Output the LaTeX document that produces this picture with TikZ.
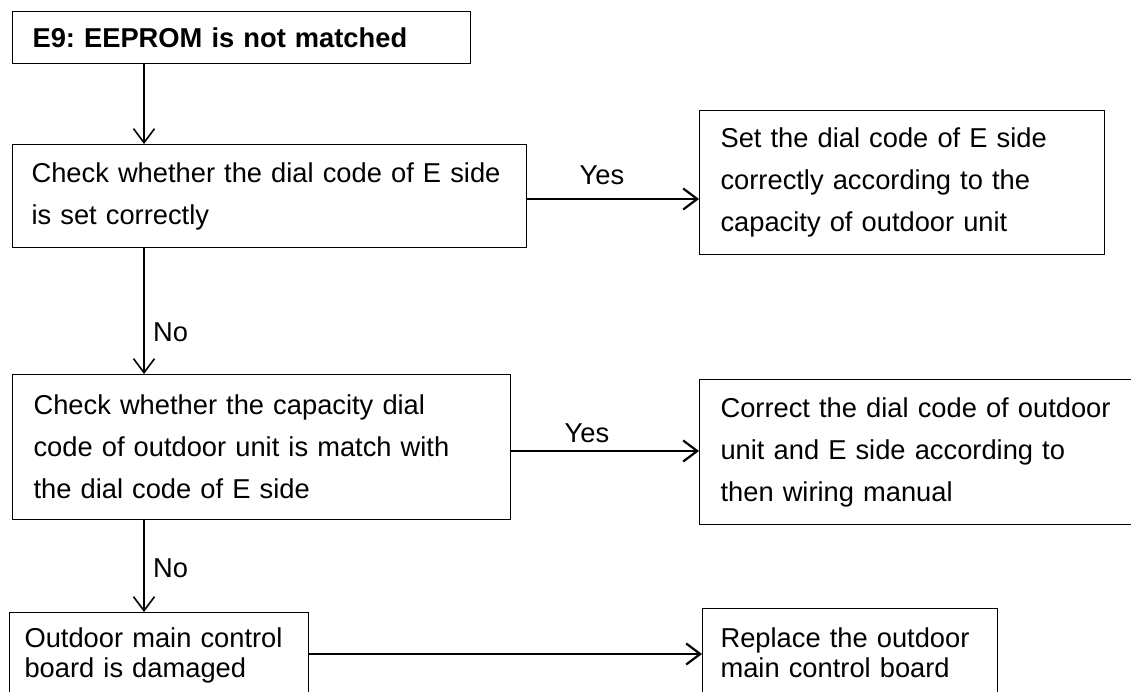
\documentclass[tikz,border=0pt]{standalone}
\usepackage{fontspec}
\setmainfont{Liberation Sans}
\usetikzlibrary{calc,arrows.meta}
\frenchspacing
\hyphenpenalty=10000
\exhyphenpenalty=10000

\begin{document}
\begin{tikzpicture}[x=1pt, y=-1pt, >={Straight Barb[length=14pt,width=21pt]},
  every node/.style={font=\fontsize{27.3}{42}\selectfont},
  box/.style={draw, line width=1.1pt, inner xsep=20pt, inner ysep=0pt, align=left, anchor=north west},
  lowbox/.style={box, font=\fontsize{27.3}{30}\selectfont},
  down/.style={->, line width=1.6pt},
  across/.style={->, line width=2.2pt}]

  \useasboundingbox (0,0) rectangle (1131,692);
  \clip (0,0) rectangle (1131,692);

  % Left column: checks
  \node[box, text width=418pt, minimum height=52pt, font=\fontsize{27.3}{42}\selectfont\bfseries] (title) at (12,11) {E9: EEPROM is not matched};
  \node[box, inner xsep=19pt, text width=476pt, minimum height=103pt] (check1) at (12,144) {Check whether the dial code of E side\\is set correctly};
  \node[box, inner xsep=21pt, text width=456pt, minimum height=145pt] (check2) at (12,374) {Check whether the capacity dial\\code of outdoor unit is match with\\the dial code of E side};
  \node[lowbox, inner xsep=15pt, text width=269pt, minimum height=86pt] (damaged) at (9,612) {Outdoor main control\\board is damaged};

  % Right column: actions
  \node[box, inner xsep=21pt, text width=363pt, minimum height=144pt] (setcode) at (699,110) {Set the dial code of E side\\correctly according to the\\capacity of outdoor unit};
  \node[box, inner xsep=21pt, text width=399pt, minimum height=145pt] (fixcode) at (699,379) {Correct the dial code of outdoor\\unit and E side according to\\then wiring manual};
  \node[lowbox, inner xsep=18pt, text width=259pt, minimum height=89pt] (replace) at (702,608) {Replace the outdoor\\main control board};

  % Vertical flow
  \coordinate (spine) at (144,0);
  \draw[down] (title.south -| spine) -- (check1.north -| spine);
  \draw[down] (check1.south -| spine) -- (check2.north -| spine);
  \draw[down] (check2.south -| spine) -- (damaged.north -| spine);
  \node[anchor=west, inner sep=0pt] (no1) at (153,332) {No};
  \node[anchor=west, inner sep=0pt] (no2) at (153,568) {No};

  % Horizontal flow
  \coordinate (yes1) at ($(check1.north east)+(0,55)$);
  \coordinate (yes2) at ($(check2.north east)+(0,77)$);
  \coordinate (fail) at ($(damaged.north east)+(0,42)$);
  \draw[across] (yes1) -- (yes1 -| setcode.west);
  \draw[across] (yes2) -- (yes2 -| fixcode.west);
  \draw[across] (fail) -- (fail -| replace.west);
  \node (yeslabel1) at (602,175) {Yes};
  \node (yeslabel2) at (587,433) {Yes};
\end{tikzpicture}
\end{document}
